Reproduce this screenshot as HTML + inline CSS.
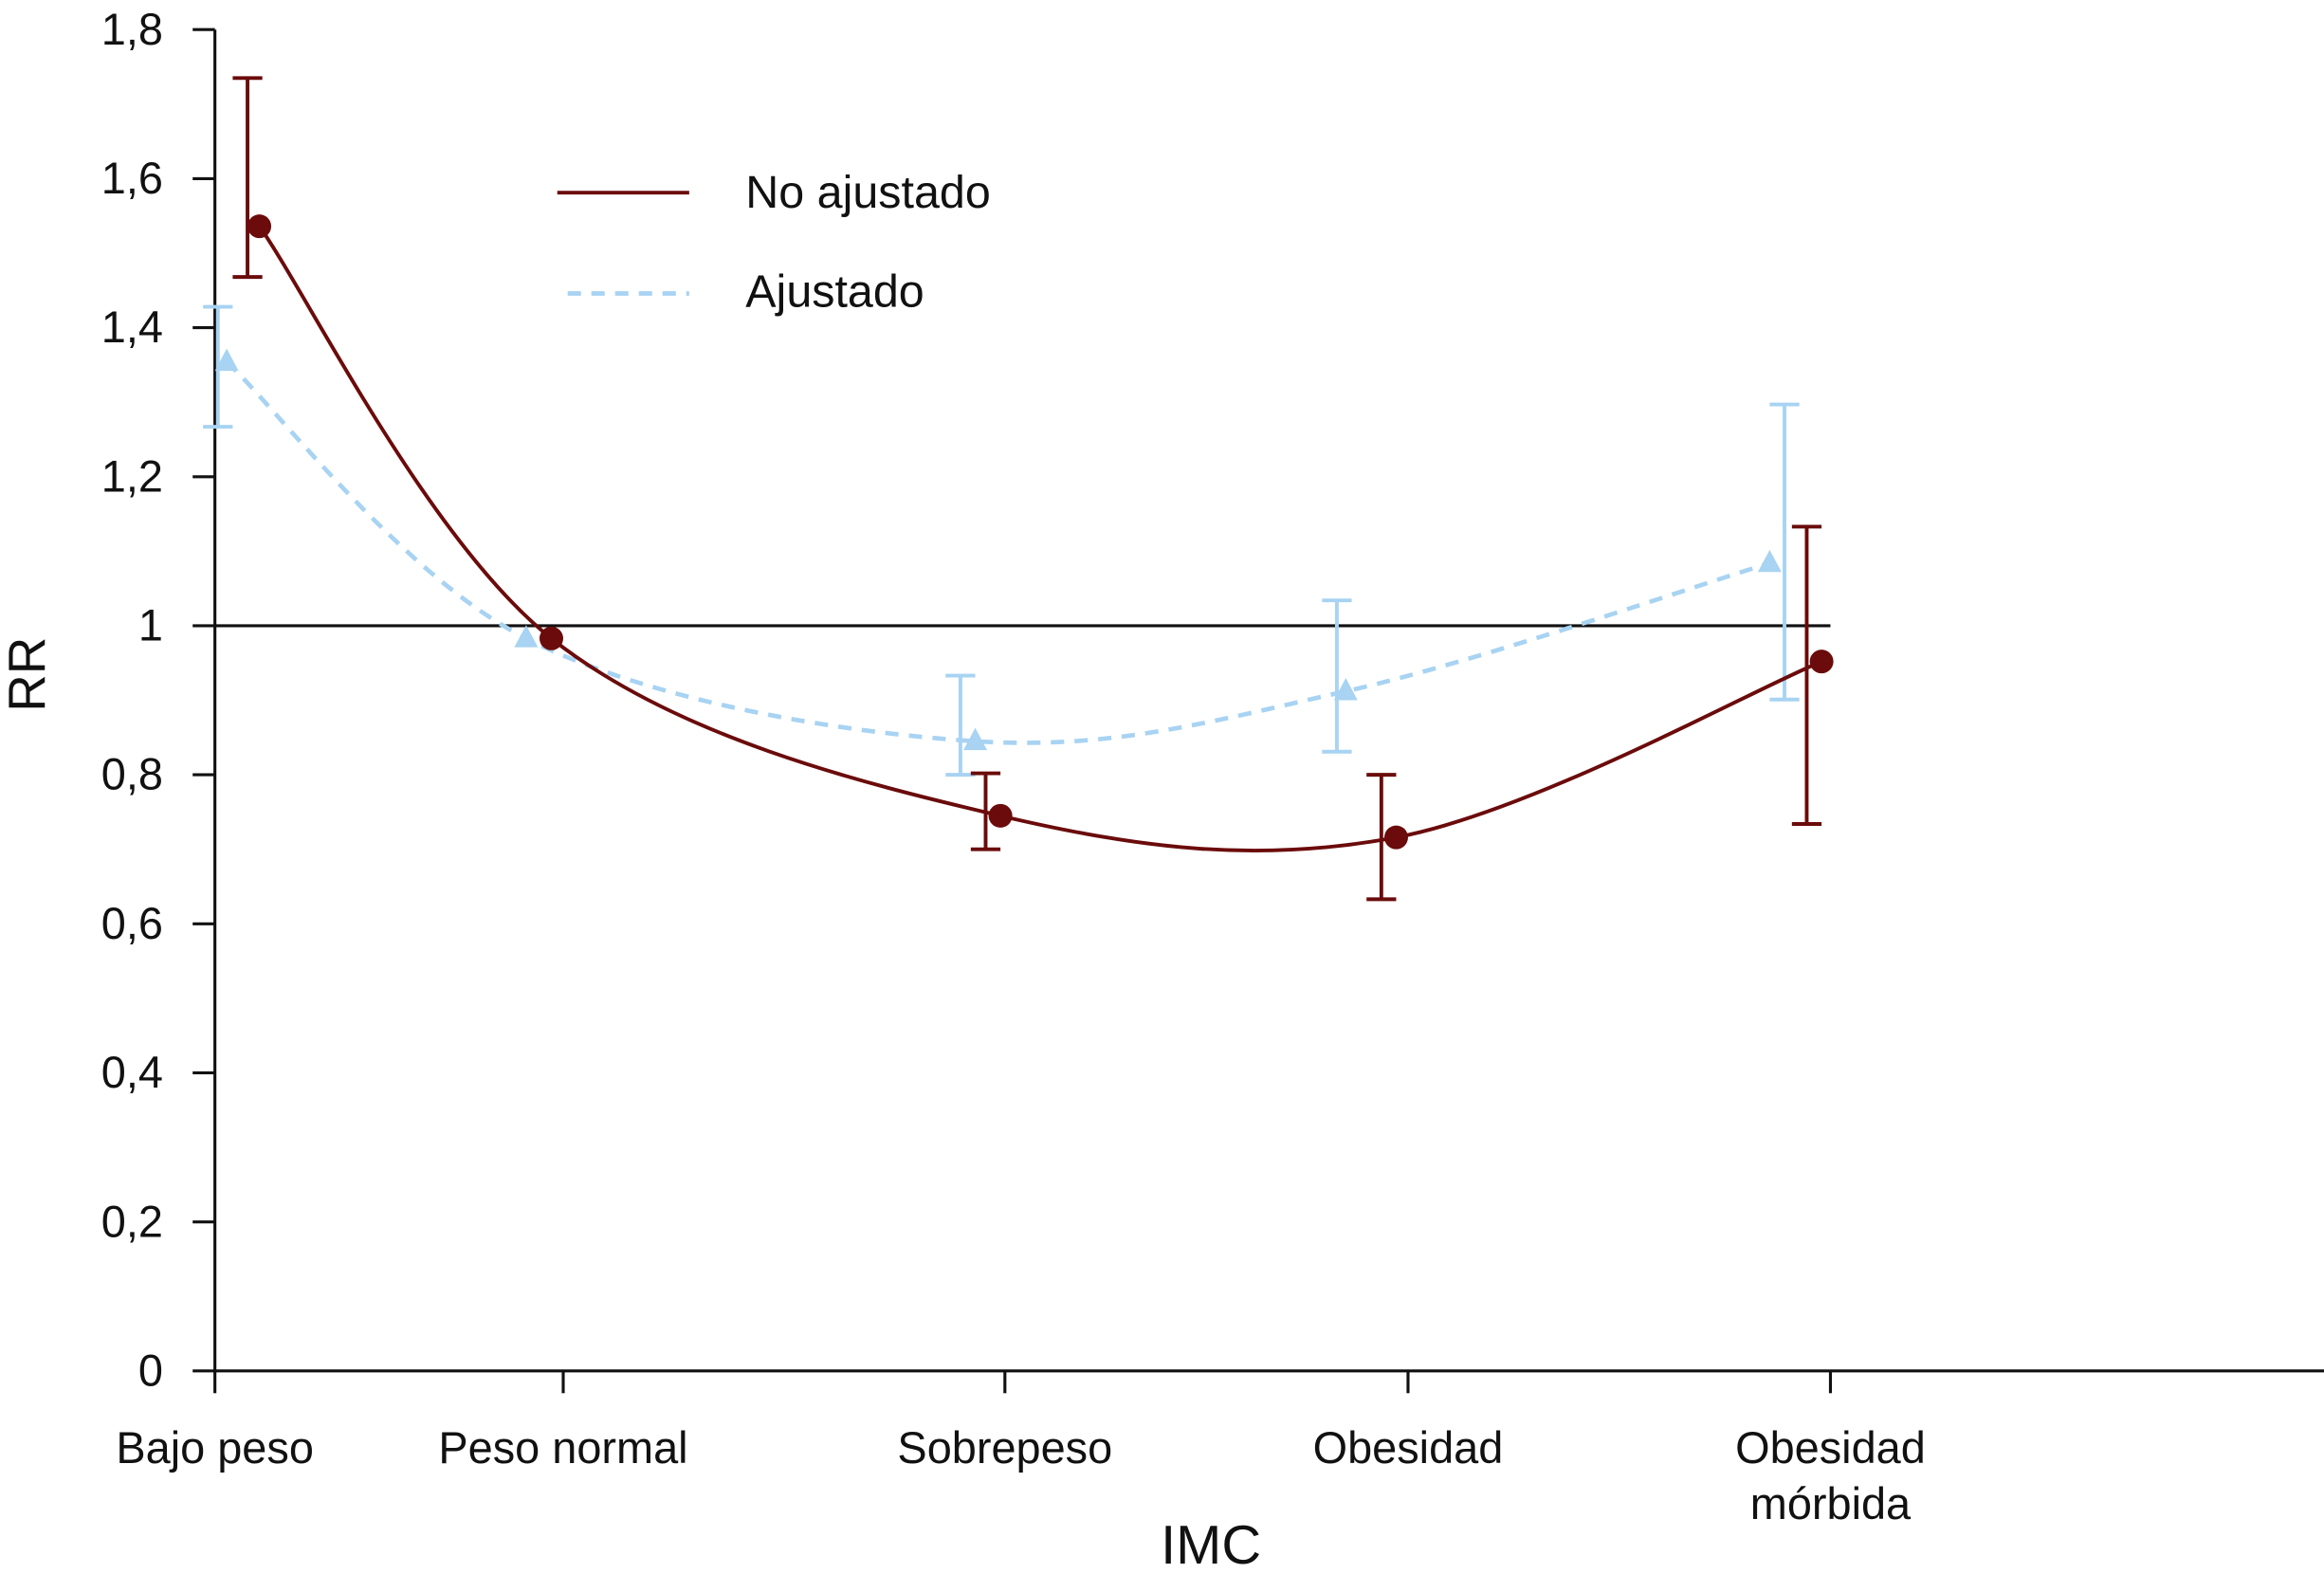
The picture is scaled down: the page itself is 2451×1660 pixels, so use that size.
<!DOCTYPE html>
<html><head><meta charset="utf-8"><style>
html,body{margin:0;padding:0;background:#fff}
svg{display:block}
text{font-family:"Liberation Sans",Arial,sans-serif;fill:#111}
</style></head><body>
<svg id="chart" width="2451" height="1660" viewBox="0 0 1568 1062" preserveAspectRatio="none" xmlns="http://www.w3.org/2000/svg"></svg>
<script>
const categories = ["Bajo peso","Peso normal","Sobrepeso","Obesidad","Obesidad mórbida"];
const yTicks = [0,0.2,0.4,0.6,0.8,1,1.2,1.4,1.6,1.8];
const yTickLabels = ["0","0,2","0,4","0,6","0,8","1","1,2","1,4","1,6","1,8"];
const unadjValues = [1.536,0.983,0.745,0.716,0.952];
const unadjLow = [1.468,null,0.700,0.633,0.734];
const unadjHigh = [1.735,null,0.802,0.800,1.133];
const adjValues = [1.354,0.983,0.845,0.912,1.084];
const adjLow = [1.267,null,0.800,0.831,0.901];
const adjHigh = [1.428,null,0.933,1.034,1.297];

const NS="http://www.w3.org/2000/svg";
const svg=document.getElementById('chart');
const catPos=[145,380,678,950,1235];
const unadjOff=[30,-8,-3,-8,-6], unadjErrOff=[22,0,-13,-18,-16];
const adjOff=[8,-25,-20,-42,-41], adjErrOff=[2,0,-30,-48,-31];
function x(i,off){return catPos[i]+(off||0);}
function y(v){return 925-v*502.8;}
function el(tag,attrs,parent){const e=document.createElementNS(NS,tag);for(const k in attrs)e.setAttribute(k,attrs[k]);(parent||svg).appendChild(e);return e;}
const DARK="#6b0b0b", LIGHT="#a8d3f2";

const ax=el('g',{});


el('line',{x1:145,y1:20,x2:145,y2:925,stroke:'#111','stroke-width':2},ax);
el('line',{x1:145,y1:925,x2:1568,y2:925,stroke:'#111','stroke-width':2},ax);
yTicks.forEach((v,i)=>{
  el('line',{x1:130,y1:y(v),x2:145,y2:y(v),stroke:'#111','stroke-width':2},ax);
  const t=el('text',{x:110,y:y(v)+10,'text-anchor':'end','font-size':30},ax);
  
  
  t.textContent=yTickLabels[i];
});
categories.forEach((c,i)=>{
  el('line',{x1:x(i),y1:925,x2:x(i),y2:940,stroke:'#111','stroke-width':2},ax);
  const t=el('text',{x:x(i),y:987,'text-anchor':'middle','font-size':30},ax);
  
  
  const parts=c==="Obesidad mórbida"?["Obesidad","mórbida"]:[c];
  parts.forEach((p,j)=>{const ts=el('tspan',{x:x(i),dy:j?38:0},t);ts.textContent=p;});
});
const ref=el('line',{x1:145,y1:y(1),x2:1235,y2:y(1),stroke:'#111','stroke-width':2});



const yt=el('text',{x:30,y:455,'text-anchor':'middle','font-size':35,transform:'rotate(-90 30 455)'});


yt.textContent='RR';
const xt=el('text',{x:817,y:1055,'text-anchor':'middle','font-size':37});


xt.textContent='IMC';

function smooth(pts){
  let d=`M${pts[0][0]},${pts[0][1]}`;
  for(let i=0;i<pts.length-1;i++){
    const p0=pts[i-1]||pts[i],p1=pts[i],p2=pts[i+1],p3=pts[i+2]||p2;
    const c1=[p1[0]+(p2[0]-p0[0])/6,p1[1]+(p2[1]-p0[1])/6];
    const c2=[p2[0]-(p3[0]-p1[0])/6,p2[1]-(p3[1]-p1[1])/6];
    d+=` C${c1[0]},${c1[1]} ${c2[0]},${c2[1]} ${p2[0]},${p2[1]}`;
  }
  return d;
}
function series(vals,lo,hi,off,eoff,color,dash,marker,name){
  const g=el('g',{});
  
  
  const pts=vals.map((v,i)=>[x(i,off[i]),y(v)]);
  const p=el('path',{d:smooth(pts),fill:'none',stroke:color,'stroke-width':dash?3:2.5,'stroke-dasharray':dash||'none'},g);
  
  
  vals.forEach((v,i)=>{
    if(lo[i]!==null){
      const ex=x(i,eoff[i]);
      const eb=el('g',{stroke:color,'stroke-width':2.5},g);
      
      
      el('line',{x1:ex,y1:y(hi[i]),x2:ex,y2:y(lo[i])},eb);
      el('line',{x1:ex-10,y1:y(hi[i]),x2:ex+10,y2:y(hi[i])},eb);
      el('line',{x1:ex-10,y1:y(lo[i]),x2:ex+10,y2:y(lo[i])},eb);
    }
    const px=x(i,off[i]),py=y(v);
    let m;
    if(marker==='circle') m=el('circle',{cx:px,cy:py,r:8,fill:color},g);
    else m=el('polygon',{points:`${px},${py-9} ${px-8},${py+6} ${px+8},${py+6}`,fill:color},g);
    
    
  });
}
series(adjValues,adjLow,adjHigh,adjOff,adjErrOff,LIGHT,'9 7','tri','adjusted');
series(unadjValues,unadjLow,unadjHigh,unadjOff,unadjErrOff,DARK,null,'circle','unadjusted');

const lg=el('g',{});


const l1=el('g',{},lg);


el('line',{x1:376,y1:130,x2:465,y2:130,stroke:DARK,'stroke-width':2.5},l1);
const t1=el('text',{x:503,y:140,'font-size':31},l1);t1.textContent='No ajustado';
const l2=el('g',{},lg);


el('line',{x1:383,y1:198,x2:465,y2:198,stroke:LIGHT,'stroke-width':3,'stroke-dasharray':'9 7'},l2);
const t2=el('text',{x:503,y:207,'font-size':31},l2);t2.textContent='Ajustado';
</script>
</body></html>
